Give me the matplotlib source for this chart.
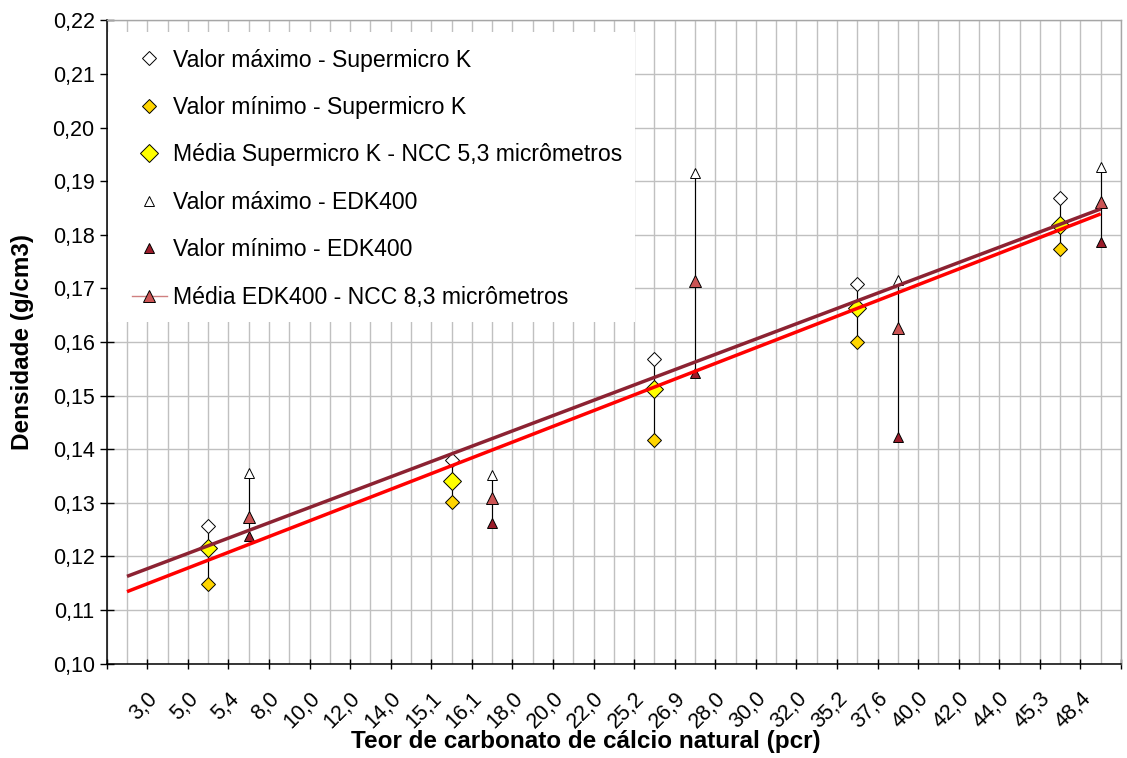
# -------------------------------------------------------------------------------------
# Libraries
import numpy as np
import matplotlib
matplotlib.use('Agg')
import matplotlib.pyplot as plt
from matplotlib.lines import Line2D
from matplotlib.patches import Rectangle
from matplotlib.transforms import ScaledTranslation
# -------------------------------------------------------------------------------------

# -------------------------------------------------------------------------------------
# Data
category_labels = ['', '3,0', '5,0', '5,4', '8,0', '10,0', '12,0', '14,0', '15,1', '16,1',
                   '18,0', '20,0', '22,0', '25,2', '26,9', '28,0', '30,0', '32,0', '35,2',
                   '37,6', '40,0', '42,0', '44,0', '45,3', '48,4']

supermicro_cat = ['5,0', '15,1', '25,2', '35,2', '45,3']
supermicro_max = [0.1257, 0.1380, 0.1568, 0.1708, 0.1868]
supermicro_min = [0.1148, 0.1301, 0.1417, 0.1600, 0.1773]
supermicro_mean = [0.1215, 0.1341, 0.1512, 0.1664, 0.1819]

edk_cat = ['5,4', '16,1', '26,9', '37,6', '48,4']
edk_max = [0.1355, 0.1352, 0.1915, 0.1716, 0.1926]
edk_min = [0.1238, 0.1263, 0.1542, 0.1422, 0.1786]
edk_mean = [0.1274, 0.1310, 0.1714, 0.1626, 0.1861]

y_ticks = [0.10, 0.11, 0.12, 0.13, 0.14, 0.15, 0.16, 0.17, 0.18, 0.19, 0.20, 0.21, 0.22]

legend_labels = ['Valor máximo - Supermicro K', 'Valor mínimo - Supermicro K',
                 'Média Supermicro K - NCC 5,3 micrômetros', 'Valor máximo - EDK400',
                 'Valor mínimo - EDK400', 'Média EDK400 - NCC 8,3 micrômetros']
# -------------------------------------------------------------------------------------

# -------------------------------------------------------------------------------------
# Settings
plt.rcParams['font.family'] = ['Liberation Sans', 'DejaVu Sans']

color_grid = '#C0C0C0'
color_sk_min = '#FFD500'
color_sk_mean = '#FFFF00'
color_edk_min = '#9B1C2A'
color_edk_mean = '#CC5555'
color_trend_sk = '#FF0000'
color_trend_edk = '#8C2232'

tick_size = 15.5
label_size = 17.5
legend_size = 16.6
# -------------------------------------------------------------------------------------

# -------------------------------------------------------------------------------------
# Figure
fig = plt.figure(figsize=(11.27, 7.58), dpi=100)
axes = fig.add_axes([0.0947, 0.1244, 0.9000, 0.8487])

x_sk = np.array([category_labels.index(c) for c in supermicro_cat])
x_edk = np.array([category_labels.index(c) for c in edk_cat])

# high-low lines
axes.vlines(x_sk, supermicro_min, supermicro_max, color='#000000', lw=0.8, zorder=2)
axes.vlines(x_edk, edk_min, edk_max, color='#000000', lw=0.8, zorder=2)

# markers
p1, = axes.plot(x_sk, supermicro_max, ls='none', marker='D', ms=7.6, mfc='#FFFFFF',
                mec='#000000', mew=0.7, zorder=3)
p2, = axes.plot(x_sk, supermicro_min, ls='none', marker='D', ms=7.6, mfc=color_sk_min,
                mec='#000000', mew=0.7, zorder=3)
p3, = axes.plot(x_sk, supermicro_mean, ls='none', marker='D', ms=9.4, mfc=color_sk_mean,
                mec='#000000', mew=0.7, zorder=3)
p4, = axes.plot(x_edk, edk_max, ls='none', marker='^', ms=7.4, mfc='#FFFFFF',
                mec='#000000', mew=0.7, zorder=3)
p5, = axes.plot(x_edk, edk_min, ls='none', marker='^', ms=7.4, mfc=color_edk_min,
                mec='#000000', mew=0.7, zorder=3)
p6, = axes.plot(x_edk, edk_mean, ls='none', marker='^', ms=9.2, mfc=color_edk_mean,
                mec='#000000', mew=0.7, zorder=3)

# linear trend lines (on category index, as in the spreadsheet)
x_trend = np.array([0, len(category_labels) - 1])
fit_edk = np.polyfit(x_edk, edk_mean, 1)
fit_sk = np.polyfit(x_sk, supermicro_mean, 1)
axes.plot(x_trend, np.polyval(fit_edk, x_trend), color=color_trend_edk, lw=2.5, zorder=4,
          solid_capstyle='butt')
axes.plot(x_trend, np.polyval(fit_sk, x_trend), color=color_trend_sk, lw=2.5, zorder=4,
          solid_capstyle='butt')

# axes limits and ticks
axes.set_xlim(-0.5, len(category_labels) - 0.5)
axes.set_ylim(y_ticks[0], y_ticks[-1])

axes.set_xticks(np.arange(-0.5, len(category_labels), 1.0))
axes.set_xticklabels([])
axes.set_xticks(np.arange(len(category_labels)), minor=True)
axes.set_xticklabels(category_labels, minor=True, rotation=45, ha='right', va='center',
                     rotation_mode='anchor', fontsize=tick_size)
axes.tick_params(axis='x', which='major', direction='inout', length=7.2, width=1.0)
axes.tick_params(axis='x', which='minor', length=0, pad=23)
for label in axes.get_xticklabels(minor=True):
    label.set_transform(label.get_transform() + ScaledTranslation(-0.13, 0, fig.dpi_scale_trans))

axes.set_yticks(y_ticks)
axes.set_yticklabels(['{:.2f}'.format(v).replace('.', ',') for v in y_ticks], fontsize=tick_size)
axes.tick_params(axis='y', direction='inout', length=9.4, width=1.0, pad=4)

axes.grid(True, axis='x', which='both', color=color_grid, lw=1.0)
axes.grid(True, axis='y', which='major', color=color_grid, lw=1.0)
axes.set_axisbelow(True)

for side in ['left', 'bottom']:
    axes.spines[side].set_color('#000000')
    axes.spines[side].set_linewidth(1.1)
for side in ['top', 'right']:
    axes.spines[side].set_color('#A6A6A6')
    axes.spines[side].set_linewidth(1.0)

# axis labels
axes.set_xlabel('Teor de carbonato de cálcio natural (pcr)', fontsize=label_size, fontweight='bold',
                va='center')
axes.xaxis.set_label_coords(0.4726, -0.1217)
axes.set_ylabel('Densidade (g/cm3)', fontsize=label_size, fontweight='bold', va='center')
axes.yaxis.set_label_coords(-0.0835, 0.5)

# legend on a white box
axes.add_patch(Rectangle((0.001, 0.5313), 0.5198, 0.4508, transform=axes.transAxes,
                         facecolor='#FFFFFF', edgecolor='none', zorder=1.5))
h6 = Line2D([], [], color='#D08080', lw=1.0, marker='^', ms=9.2, mfc=color_edk_mean,
            mec='#000000', mew=0.7)
legend = axes.legend([p1, p2, p3, p4, p5, h6], legend_labels, loc='upper left',
                     bbox_to_anchor=(0.0245, 0.9563), borderaxespad=0, borderpad=0,
                     frameon=False, fontsize=legend_size, handlelength=1.52, handletextpad=0.26,
                     labelspacing=1.06)
legend.set_zorder(5)

fig.savefig('out.png', dpi=100)
plt.close()
# -------------------------------------------------------------------------------------
